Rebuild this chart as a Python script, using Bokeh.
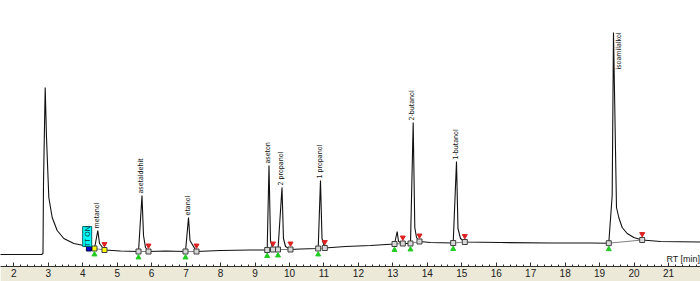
import math
from bokeh.plotting import figure
from bokeh.models import Range1d, LinearAxis, SingleIntervalTicker, Label, ColumnDataSource
from bokeh.core.properties import value
from bokeh.embed import file_html
from bokeh.resources import INLINE

# ---- chromatogram trace (RT in min, detector signal in mV) ----
trace_rt = [1.60, 2.804, 2.847, 2.862, 2.911, 2.949, 3.016, 3.114, 3.259, 3.451, 3.741, 4.031,
            4.342, 4.438, 4.487, 4.632, 5.096,
            5.619, 5.720, 5.764, 5.822, 5.909, 6.402,
            6.983, 7.070, 7.113, 7.302, 8.000, 8.869,
            9.353, 9.406, 9.449, 9.522,
            9.667, 9.783, 9.826, 9.885, 10.030, 10.320,
            10.833, 10.900, 10.944, 11.025, 11.626, 12.350,
            13.048, 13.126, 13.164, 13.289,
            13.512, 13.590, 13.637, 13.686, 13.773, 14.092,
            14.751, 14.847, 14.890, 14.963, 15.088, 16.124, 17.575, 18.735,
            19.266, 19.365, 19.403, 19.490, 19.557, 19.655, 19.800, 19.992, 20.236,
            20.767, 21.928]
trace_mv = [11, 11, 12, 83, 178, 128, 68, 48, 35, 27, 22, 20,
            17, 35, 22, 15.5, 14.5,
            14, 70, 30, 18, 14, 14.5,
            14, 48, 25, 14, 15, 15.5,
            15.5, 100, 25, 16,
            16, 78, 27, 19, 16, 16.5,
            17, 85, 27, 17.5, 19, 20,
            21.5, 34, 24, 22,
            22, 143, 38, 28, 24, 23,
            22.5, 104, 37, 27, 23.5, 23, 22.5, 22.5,
            22.3, 70, 233, 58, 48, 38, 32, 28, 25.5,
            24, 23.5]

# ---- integrated peaks ----
peak_names = ["metanol", "asetaldehit", "etanol", "aseton", "2 propanol", "1 propanol",
              "", "2-butanol", "1-butanol", "isoamilalkol"]
peak_apex_rt = [4.438, 5.720, 7.070, 9.406, 9.783, 10.900, 13.126, 13.590, 14.847, 19.403]
peak_apex_mv = [35, 70, 48, 100, 78, 85, 34, 143, 104, 233]
peak_start_rt = [4.342, 5.619, 6.983, 9.353, 9.667, 10.833, 13.048, 13.512, 14.751, 19.266]
peak_start_mv = [17, 14, 14, 15.5, 16, 17, 21.5, 22, 22.5, 22.3]
peak_end_rt = [4.632, 5.909, 7.302, 9.522, 10.030, 11.025, 13.289, 13.773, 15.088, 20.236]
peak_end_mv = [15.5, 14, 14, 16, 16, 17.5, 22, 24, 23.5, 25.5]

# ---- integration event ----
event_text = "TT ON"
event_rt = 4.18
event_mv = 17

x_ticks = list(range(2, 22))

BEIGE = "#ECE9D8"

p = figure(width=700, height=281, output_backend="svg", toolbar_location=None,
           x_range=Range1d(1.614, 21.928), y_range=Range1d(-1, 265),
           x_axis_location=None, y_axis_location=None,
           min_border_left=0, min_border_right=0, min_border_top=0, min_border_bottom=15,
           background_fill_color="white", border_fill_color=BEIGE, outline_line_color=None)
p.grid.visible = False

ax = LinearAxis(ticker=SingleIntervalTicker(interval=1, num_minor_ticks=5))
ax.major_tick_in = 4
ax.major_tick_out = 0
ax.minor_tick_in = 2
ax.minor_tick_out = 0
ax.axis_line_color = "#303030"
ax.major_tick_line_color = "#303030"
ax.minor_tick_line_color = "#303030"
ax.major_label_standoff = 2
ax.major_label_text_font = "Liberation Sans"
ax.major_label_text_font_size = "10px"
ax.major_label_text_color = "#202020"
ax.major_label_overrides = {t: str(t) for t in x_ticks}
p.add_layout(ax, "below")

# baselines under peaks
p.segment(x0=peak_start_rt, y0=peak_start_mv, x1=peak_end_rt, y1=peak_end_mv,
          line_color="#808080", line_width=1)

# trace
p.line(trace_rt, trace_mv, line_color="#111111", line_width=1.1)

# peak start / end markers
reg = list(range(1, len(peak_names)))
p.scatter([peak_start_rt[i] for i in reg], [peak_start_mv[i] for i in reg], marker="square",
          size=5, fill_color="#d8d8d8", line_color="#404040")
p.scatter([peak_end_rt[i] for i in reg], [peak_end_mv[i] for i in reg], marker="square",
          size=5, fill_color="#d8d8d8", line_color="#404040")
p.scatter([peak_start_rt[0], peak_end_rt[0]], [peak_start_mv[0], peak_end_mv[0]], marker="square",
          size=5, fill_color="#ffff00", line_color="#404040")
p.scatter([s for s in peak_start_rt], [m - 6 for m in peak_start_mv], marker="triangle",
          size=5, fill_color="#22cc22", line_color="#22cc22")
p.scatter([s for s in peak_end_rt], [m + 6 for m in peak_end_mv], marker="inverted_triangle",
          size=5, fill_color="#dd2222", line_color="#dd2222")

# event marker
p.scatter([event_rt], [event_mv], marker="square", size=5, fill_color="#0000cc", line_color="#000044")
p.rect(x=[event_rt - 0.05], y=[event_mv + 12], width=9, height=20, width_units="screen",
       height_units="screen", fill_color="#00ffff", line_color="#006666")
p.text(x=[event_rt - 0.05], y=[event_mv + 12], text=[event_text], angle=math.pi / 2,
       text_align="center", text_baseline="middle", text_font=value("Liberation Sans"),
       text_font_size="7px", text_color="#003333")

# peak labels
lab_font = value("Liberation Sans Narrow, DejaVu Sans Condensed, Liberation Sans")
above = dict(x=[], y=[], t=[])
beside = dict(x=[], y=[], t=[])
for name, rt, mv in zip(peak_names, peak_apex_rt, peak_apex_mv):
    if not name:
        continue
    if mv + 40 > 265:
        beside["x"].append(rt + 0.17)
        beside["y"].append(mv)
        beside["t"].append(name)
    else:
        above["x"].append(rt - 0.02)
        above["y"].append(mv + 2)
        above["t"].append(name)
p.text(x="x", y="y", text="t", source=ColumnDataSource(above), angle=math.pi / 2,
       text_align="left", text_baseline="middle", text_font=lab_font,
       text_font_size="7px", text_color="#111111")
p.text(x="x", y="y", text="t", source=ColumnDataSource(beside), angle=math.pi / 2,
       text_align="right", text_baseline="middle", text_font=lab_font,
       text_font_size="7px", text_color="#111111")

p.add_layout(Label(x=21.92, y=7, text="RT [min]", text_align="right", text_baseline="alphabetic",
                   text_font="Liberation Sans", text_font_size="9px", text_color="#202020"))

open("out.html", "w").write(file_html(p, INLINE))
